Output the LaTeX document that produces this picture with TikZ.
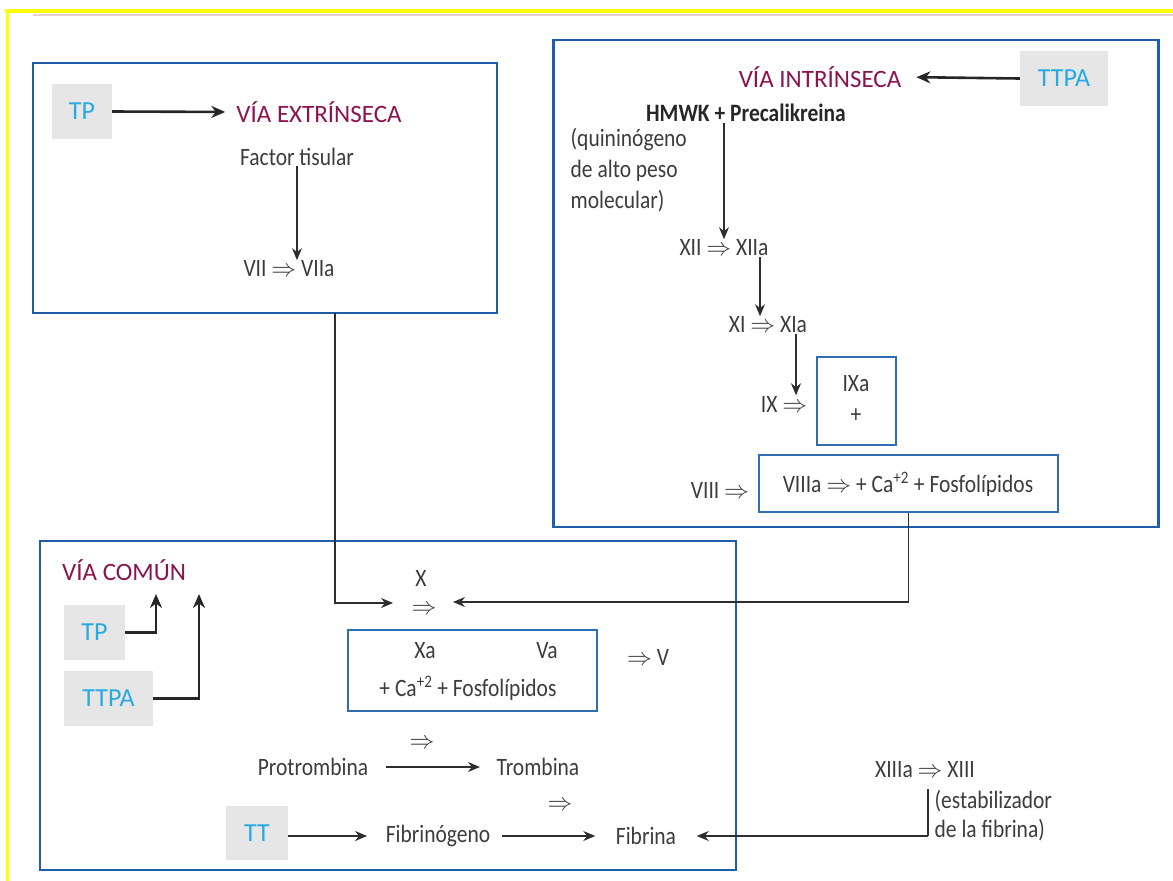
\documentclass[tikz,border=0pt]{standalone}
\usepackage{fontspec}
\setmainfont[FakeStretch=0.86]{Carlito}
\newfontfamily\wfont{Carlito}
\usetikzlibrary{arrows.meta}
\definecolor{boxblue}{HTML}{1E5DA8}
\definecolor{boxblue2}{HTML}{2F6DB5}
\definecolor{tgray}{HTML}{3C3C3C}
\definecolor{lgray}{HTML}{E6E6E6}
\definecolor{tcyan}{HTML}{27A9E1}
\definecolor{vmag}{HTML}{8A1450}
\definecolor{ylw}{HTML}{FFFF00}
\definecolor{pnk}{HTML}{E9CDD5}
\newcommand{\imp}{$\Rightarrow$}
\tikzset{
  txt/.style={text=tgray, inner sep=0.5pt},
  ttl/.style={text=vmag, inner sep=1pt, font=\wfont\fontsize{25}{28}\selectfont},
  gbox/.style={fill=lgray, text=tcyan, inner sep=0pt, minimum height=55pt, font=\wfont\fontsize{26}{28}\selectfont},
  bigbox/.style={draw=boxblue, line width=2.8pt, inner sep=0pt},
  smallbox/.style={draw=boxblue2, line width=1.4pt, inner sep=0pt},
  conn/.style={draw=black!82, line width=1.2pt, -{Stealth[length=12pt,width=10pt]}},
  tarr/.style={draw=black!85, line width=2.6pt, -{Stealth[length=14pt,width=12pt]}},
  link/.style={draw=black!82, line width=1.2pt}
}
\begin{document}
\begin{tikzpicture}[x=1pt,y=-1pt,font=\fontsize{25}{28}\selectfont]
\useasboundingbox (0,0) rectangle (1173,881);
% page decoration
\draw[pnk, line width=2pt] (33,15) -- (1173,15);
\draw[ylw, line width=3.5pt] (5,11) -- (1173,11);
\draw[ylw, line width=3pt] (7.5,11) -- (7.5,881);

% big boxes
\node[bigbox, minimum width=464pt, minimum height=250pt] (lbox) at (265,188) {};
\node[bigbox, minimum width=605pt, minimum height=487pt] (rbox) at (856,283.5) {};
\node[bigbox, minimum width=696pt, minimum height=329pt] (cbox) at (388,705.5) {};

% ---- extrinsic
\node[gbox, minimum width=60pt] (tp1) at (82,111.5) {TP};
\node[ttl] (vext) at (319,112) {VÍA EXTRÍNSECA};
\node[txt] (ft) at (297,157) {Factor tisular};
\node[txt] (vii) at (289,269) {VII \imp{} VIIa};
\draw[tarr, shorten >=10pt] (tp1.east) -- (vext.west);
\draw[conn] (ft.south) -- (ft.south |- vii.north);

% ---- intrinsic
\node[gbox, minimum width=88pt] (ttpa1) at (1064,78.5) {TTPA};
\node[ttl] (vint) at (820,77) {VÍA INTRÍNSECA};
\node[txt, text=black!85, font=\bfseries\fontsize{25}{28}\selectfont] (hmwk) at (746,113) {HMWK + Precalikreina};
\node[txt, align=left, anchor=west, font=\fontsize{25}{31}\selectfont] (quin) at (570,170) {(quininógeno\\de alto peso\\molecular)};
\node[txt] (xii) at (724,248) {XII \imp{} XIIa};
\node[txt] (xi) at (768,325) {XI \imp{} XIa};
\node[txt] (ix) at (784,404) {IX \imp};
\node[smallbox, minimum width=79pt, minimum height=88pt] (ixbox) at (856.5,401) {};
\node[txt] (ixa) at (856,384) {IXa};
\node[txt] (ixp) at (856,416) {+};
\node[txt] (viii) at (720,490) {VIII \imp};
\node[smallbox, minimum width=299pt, minimum height=57pt] (vbox) at (908.5,483.5) {};
\node[txt] (viiia) at (908,484) {VIIIa \imp{} + Ca\textsuperscript{+2} + Fosfolípidos};
\draw[tarr, shorten >=14pt] (ttpa1.west) -- (vint.east);
\draw[conn] (hmwk.south -| xii.north) -- (xii.north);
\draw[conn] ([xshift=36pt]xii.south) -- ([xshift=36pt]xii.south |- xi.north);
\draw[conn] ([xshift=28pt]xi.south) -- ([xshift=28pt]xi.south |- ix.north);

% ---- common
\node[ttl, anchor=west] (vcom) at (61,570) {VÍA COMÚN};
\node[gbox, minimum width=61pt] (tp2) at (94.5,632.5) {TP};
\node[gbox, minimum width=89pt] (ttpa2) at (108.5,698.5) {TTPA};
\coordinate (upa) at (156,594);
\coordinate (upb) at (199,594);
\draw[tarr] (tp2.east) -| (upa);
\draw[tarr] (ttpa2.east) -| (upb);

\node[txt, inner sep=0pt] (xn) at (421,578) {X};
\node[txt, inner sep=0pt] (xarr) at (424,610) {\imp};
\coordinate (xinl) at (393,603);
\coordinate (xinr) at (453,602);
\coordinate (lout) at (335,313);
\draw[conn] (lout) |- (xinl);
\draw[conn] (vbox.south) |- (xinr);

\node[smallbox, minimum width=249pt, minimum height=81pt] (xbox) at (472.5,670.5) {};
\node[txt] (xa) at (425,651) {Xa};
\node[txt] (va) at (547,651) {Va};
\node[txt] (caf) at (468,688) {+ Ca\textsuperscript{+2} + Fosfolípidos};
\node[txt] (iv) at (648,657) {\imp{} V};

\node[txt] (arrp) at (422,744) {\imp};
\node[txt] (prot) at (313,767) {Protrombina};
\node[txt] (trom) at (538,767) {Trombina};
\draw[conn, shorten <=17pt, shorten >=16pt] (prot.east) -- (trom.west);

\node[gbox, minimum width=62pt, minimum height=54pt] (tt) at (257,833) {TT};
\node[txt] (arrf) at (560,806) {\imp};
\node[txt] (fibg) at (438,836) {Fibrinógeno};
\node[txt] (fib) at (646,836) {Fibrina};
\draw[conn, shorten >=18pt] (tt.east |- fibg.west) -- (fibg.west);
\draw[conn, shorten <=11pt, shorten >=20pt] (fibg.east) -- (fib.west);

\node[txt] (xiii) at (925,770) {XIIIa \imp{} XIII};
\node[txt, align=left, anchor=west, font=\fontsize{25}{29}\selectfont] (estab) at (934,816) {(estabilizador\\de la fibrina)};
\coordinate (xiiil) at (928,789);
\draw[link] (xiiil) -- (xiiil |- fib.east);
\draw[conn, shorten >=20pt] (xiiil |- fib.east) -- (fib.east);
\end{tikzpicture}
\end{document}
